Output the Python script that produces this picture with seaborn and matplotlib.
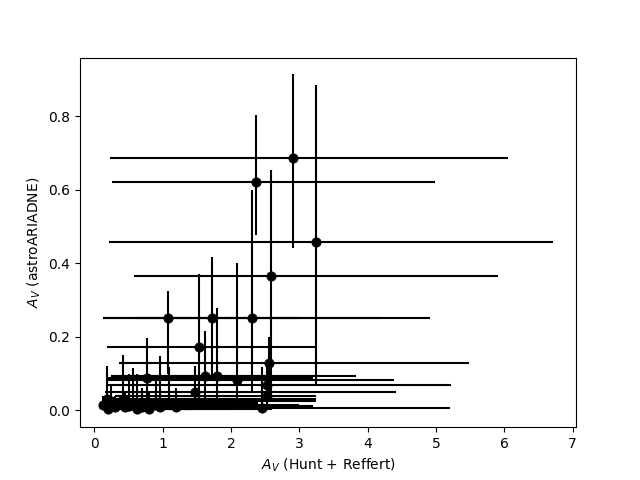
import numpy as np
import seaborn as sns
import matplotlib.pyplot as plt

# A_V values (Hunt + Reffert on x, astroARIADNE on y) with error ranges
av_hunt = [2.91, 2.37, 3.25, 2.58, 1.08, 1.72, 2.31, 1.535, 2.56, 0.765,
           1.62, 1.80, 2.09, 2.53, 2.45, 1.47, 2.52,
           0.12, 0.18, 0.20, 0.25, 0.30, 0.42, 0.45, 0.50, 0.56, 0.62,
           0.70, 0.80, 0.90, 0.96, 1.10, 1.20]
av_ariadne = [0.686, 0.620, 0.459, 0.365, 0.250, 0.250, 0.250, 0.172, 0.130, 0.089,
              0.093, 0.093, 0.084, 0.068, 0.006, 0.050, 0.038,
              0.015, 0.030, 0.005, 0.025, 0.010, 0.030, 0.008, 0.012, 0.020, 0.005,
              0.010, 0.005, 0.015, 0.008, 0.020, 0.010]
hunt_min = [0.23, 0.26, 0.22, 0.58, 0.12, 0.60, 0.13, 0.18, 0.36, 0.20,
            0.25, 0.30, 0.20, 0.20, 0.12, 0.15, 0.30,
            0.12, 0.14, 0.15, 0.16, 0.20, 0.17, 0.20, 0.25, 0.20, 0.25,
            0.30, 0.30, 0.35, 0.30, 0.40, 0.50]
hunt_max = [6.06, 4.99, 6.72, 5.91, 3.00, 4.20, 4.92, 3.26, 5.48, 3.20,
            3.83, 3.30, 4.38, 5.22, 5.20, 4.41, 3.24,
            1.00, 2.10, 1.50, 3.24, 2.00, 3.24, 2.50, 3.20, 2.40, 2.00,
            2.20, 2.60, 3.00, 2.10, 2.30, 2.60]
ariadne_min = [0.442, 0.478, 0.068, 0.040, 0.100, 0.080, 0.050, 0.000, 0.030, 0.000,
               0.000, 0.000, 0.000, 0.020, 0.000, 0.000, 0.000,
               0.000, 0.000, 0.000, 0.000, 0.000, 0.000, 0.000, 0.000, 0.000, 0.000,
               0.000, 0.000, 0.000, 0.000, 0.000, 0.000]
ariadne_max = [0.914, 0.803, 0.884, 0.653, 0.324, 0.417, 0.600, 0.370, 0.200, 0.198,
               0.215, 0.279, 0.400, 0.120, 0.118, 0.120, 0.100,
               0.040, 0.122, 0.030, 0.070, 0.040, 0.152, 0.050, 0.100, 0.116, 0.100,
               0.060, 0.050, 0.080, 0.147, 0.117, 0.060]

x = np.array(av_hunt)
y = np.array(av_ariadne)
xerr = [x - np.array(hunt_min), np.array(hunt_max) - x]
yerr = [y - np.array(ariadne_min), np.array(ariadne_max) - y]

fig, ax = plt.subplots(figsize=(6.4, 4.8), dpi=100)
ax.errorbar(x, y, xerr=xerr, yerr=yerr, fmt='none', ecolor='black', lw=1.5)
sns.scatterplot(x=x, y=y, color='black', s=45, edgecolor='black', ax=ax, zorder=3)

ax.set_xlabel('$A_V$ (Hunt + Reffert)')
ax.set_ylabel('$A_V$ (astroARIADNE)')

fig.savefig('out.png', dpi=100)
